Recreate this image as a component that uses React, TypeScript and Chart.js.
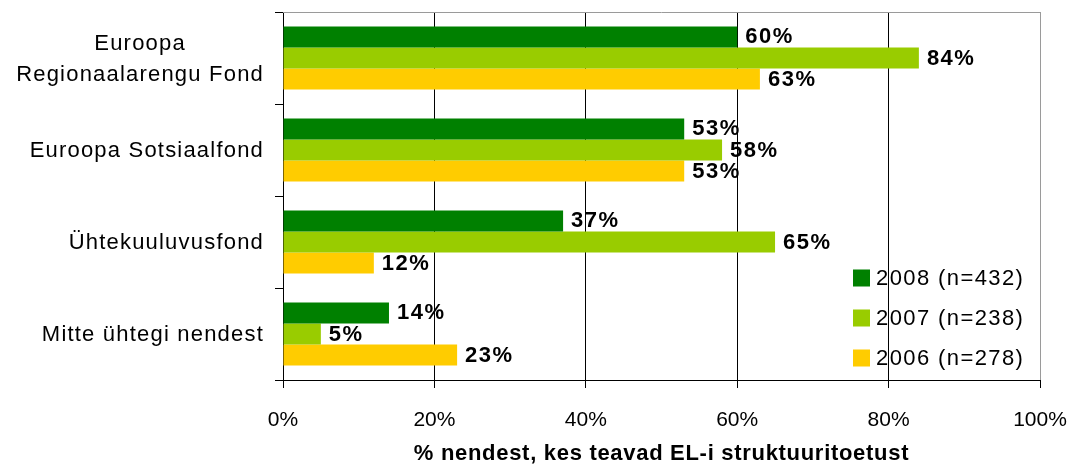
import React, { useEffect, useRef } from "react";
import { Chart, registerables } from "chart.js";

Chart.register(...registerables);

const categories: string[][] = [
  ["Euroopa", "Regionaalarengu Fond"],
  ["Euroopa Sotsiaalfond"],
  ["Ühtekuuluvusfond"],
  ["Mitte ühtegi nendest"],
];
const seriesLabels = ["2008 (n=432)", "2007 (n=238)", "2006 (n=278)"];
const values2008 = [60, 53, 37, 14];
const values2007 = [84, 58, 65, 5];
const values2006 = [63, 53, 12, 23];
const seriesColors = ["#008000", "#99CC00", "#FFCC00"];
const xTickValues = [0, 20, 40, 60, 80, 100];
const xTitle = "% nendest, kes teavad EL-i struktuuritoetust";

const FONT = "'Liberation Sans', Arial, sans-serif";

const customPlugin = {
  id: "customDraw",
  afterDatasetsDraw(chart: any) {
    const ctx = chart.ctx;
    ctx.save();
    ctx.font = `bold 22px ${FONT}`;
    (ctx as any).letterSpacing = "1.5px";
    ctx.fillStyle = "#000";
    ctx.textAlign = "left";
    ctx.textBaseline = "alphabetic";
    chart.data.datasets.forEach((ds: any, di: number) => {
      const meta = chart.getDatasetMeta(di);
      meta.data.forEach((bar: any, i: number) => {
        ctx.fillText(`${ds.data[i]}%`, bar.x + 8, bar.y + 6.5);
      });
    });
    ctx.restore();
  },
  afterDraw(chart: any) {
    const ctx = chart.ctx;
    const area = chart.chartArea;
    const yScale = chart.scales.y;
    ctx.save();
    // top border
    ctx.strokeStyle = "#9a9a9a";
    ctx.lineWidth = 1;
    ctx.beginPath();
    ctx.moveTo(area.left, area.top + 0.5);
    ctx.lineTo(area.right, area.top + 0.5);
    ctx.stroke();

    // y labels
    ctx.font = `22px ${FONT}`;
    (ctx as any).letterSpacing = "1.2px";
    ctx.fillStyle = "#000";
    ctx.textAlign = "center";
    ctx.textBaseline = "alphabetic";
    const rightEdge = 264;
    const lineH = 31;
    categories.forEach((lines, i) => {
      const cy = yScale.getPixelForValue(i);
      const maxW = Math.max(...lines.map((l) => ctx.measureText(l).width));
      const cx = rightEdge - maxW / 2;
      lines.forEach((line, li) => {
        const by = cy + 7 + (li - (lines.length - 1) / 2) * lineH;
        ctx.fillText(line, cx, by);
      });
    });

    // legend
    (ctx as any).letterSpacing = "1.4px";
    ctx.textAlign = "left";
    const legendRows = [278, 318, 358];
    seriesLabels.forEach((lab, i) => {
      ctx.fillStyle = seriesColors[i];
      ctx.fillRect(853, legendRows[i] - 8.5, 17, 17);
      ctx.fillStyle = "#000";
      ctx.fillText(lab, 876, legendRows[i] + 7);
    });

    // x title
    ctx.font = `bold 22px ${FONT}`;
    (ctx as any).letterSpacing = "0.7px";
    ctx.textAlign = "center";
    ctx.fillText(xTitle, (area.left + area.right) / 2, 460);
    ctx.restore();
  },
};

export default function App() {
  const canvasRef = useRef<HTMLCanvasElement | null>(null);

  useEffect(() => {
    if (!canvasRef.current) return;
    const data = {
      labels: categories.map((c) => c.join(" ")),
      datasets: [values2008, values2007, values2006].map((vals, i) => ({
        label: seriesLabels[i],
        data: vals,
        backgroundColor: seriesColors[i],
        borderWidth: 0,
        categoryPercentage: 0.685,
        barPercentage: 1.0,
      })),
    };
    const chart = new Chart(canvasRef.current, {
      type: "bar",
      data,
      options: {
        indexAxis: "y",
        animation: false,
        responsive: false,
        maintainAspectRatio: false,
        layout: { padding: { left: 0, right: 37, top: 12, bottom: 0 } },
        plugins: {
          legend: { display: false },
          tooltip: { enabled: false },
          title: { display: false },
        },
        scales: {
          x: {
            type: "linear",
            min: 0,
            max: 100,
            afterBuildTicks: (scale: any) => {
              scale.ticks = xTickValues.map((v) => ({ value: v }));
            },
            afterFit: (scale: any) => {
              scale.height = 94;
              scale.paddingRight = 0;
              scale.paddingLeft = 0;
            },
            ticks: {
              callback: (v: any) => `${v}%`,
              font: { family: FONT, size: 21 },
              color: "#000",
              padding: 20,
              maxRotation: 0,
              autoSkip: false,
            },
            grid: {
              color: (c: any) => (c.index === xTickValues.length - 1 ? "#9a9a9a" : "#000"),
              tickColor: "#000",
              tickLength: 8,
              lineWidth: 1,
            },
            border: { color: "#000", width: 1 },
          },
          y: {
            type: "category",
            afterFit: (scale: any) => {
              scale.width = 283;
            },
            ticks: { display: false },
            grid: {
              drawOnChartArea: false,
              drawTicks: true,
              tickLength: 8,
              color: "#000",
              offset: true,
            },
            border: { color: "#000", width: 1 },
          },
        },
      },
      plugins: [customPlugin],
    });
    return () => chart.destroy();
  }, []);

  return (
    <div style={{ position: "fixed", left: 0, top: 0, width: 1077, height: 474, background: "#fff" }}>
      <canvas ref={canvasRef} width={1077} height={474} style={{ display: "block" }} />
    </div>
  );
}
